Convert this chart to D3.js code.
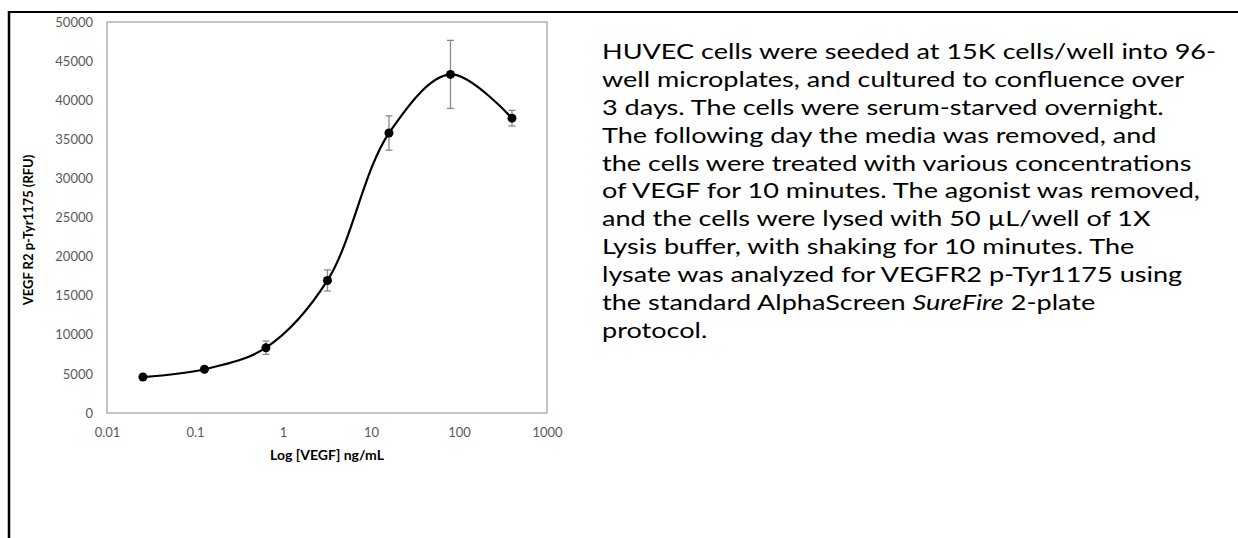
<!DOCTYPE html>
<html lang="en">
<head>
  <meta charset="UTF-8">
  <title>VEGF R2 p-Tyr1175 dose response</title>
  <script src="https://d3js.org/d3.v7.min.js"></script>
  <style>
    body {
      margin: 0;
      background: #fff;
      font-family: Lato, "Liberation Sans", sans-serif;
    }
    .tick-label {
      font-size: 13px;
      fill: #595959;
    }
    .axis-title {
      font-weight: bold;
      fill: #000;
    }
    .note {
      font-size: 20.5px;
      fill: #000;
    }
  </style>
</head>
<body>
  <div id="chart"></div>

  <script>
    // Data (5-fold dilution series)
    const concentrations = [0.0256, 0.128, 0.64, 3.2, 16, 80, 400];
    const signal = [4600, 5600, 8350, 16950, 35800, 43300, 37700];
    const errors = [200, 300, 850, 1350, 2200, 4350, 1000];

    const yTicks = [0, 5000, 10000, 15000, 20000, 25000, 30000, 35000, 40000, 45000, 50000];
    const xTicks = [0.01, 0.1, 1, 10, 100, 1000];

    const noteLines = [
      "HUVEC cells were seeded at 15K cells/well into 96-",
      "well microplates, and cultured to confluence over",
      "3 days. The cells were serum-starved overnight.",
      "The following day the media was removed, and",
      "the cells were treated with various concentrations",
      "of VEGF for 10 minutes. The agonist was removed,",
      "and the cells were lysed with 50 \u00b5L/well of 1X",
      "Lysis buffer, with shaking for 10 minutes. The",
      "lysate was analyzed for VEGFR2 p-Tyr1175 using",
      "the standard AlphaScreen |SureFire| 2-plate",
      "protocol."
    ];

    const W = 1238, H = 538;
    const plot = { left: 107, right: 547, top: 22, bottom: 413 };

    const svg = d3.select("#chart")
      .append("svg")
      .attr("width", W)
      .attr("height", H);

    // Outer frame (top + left rules)
    svg.append("line")
      .attr("x1", 9).attr("x2", W).attr("y1", 12).attr("y2", 12)
      .attr("stroke", "#000").attr("stroke-width", 2);
    svg.append("line")
      .attr("x1", 9).attr("x2", 9).attr("y1", 11).attr("y2", H)
      .attr("stroke", "#000").attr("stroke-width", 2.5);

    // Scales
    const x = d3.scaleLog()
      .domain([0.01, 1000])
      .range([plot.left, plot.right]);

    const y = d3.scaleLinear()
      .domain([0, 50000])
      .range([plot.bottom, plot.top]);

    // Plot area box
    svg.append("rect")
      .attr("x", plot.left)
      .attr("y", plot.top)
      .attr("width", plot.right - plot.left)
      .attr("height", plot.bottom - plot.top)
      .attr("fill", "none")
      .attr("stroke", "#8c8c8c")
      .attr("stroke-width", 1);

    // Axes (labels only, no tick marks)
    const yAxis = d3.axisLeft(y).tickValues(yTicks).tickSize(0).tickPadding(14)
      .tickFormat(d3.format("d"));
    const gy = svg.append("g")
      .attr("transform", `translate(${plot.left},0)`)
      .call(yAxis);
    gy.select(".domain").remove();
    gy.selectAll("text")
      .attr("class", "tick-label")
      .attr("fill", null)
      .style("font-family", "Lato, sans-serif");

    const xAxis = d3.axisBottom(x).tickValues(xTicks).tickSize(0).tickPadding(15)
      .tickFormat(d => String(d));
    const gx = svg.append("g")
      .attr("transform", `translate(0,${plot.bottom})`)
      .call(xAxis);
    gx.select(".domain").remove();
    gx.selectAll("text")
      .attr("class", "tick-label")
      .attr("fill", null)
      .style("font-family", "Lato, sans-serif");

    // Axis titles
    svg.append("text")
      .attr("class", "axis-title")
      .attr("x", (plot.left + plot.right) / 2)
      .attr("y", 460)
      .attr("text-anchor", "middle")
      .style("font-size", "14px")
      .text("Log [VEGF] ng/mL");

    svg.append("text")
      .attr("class", "axis-title")
      .attr("transform", "translate(33,230) rotate(-90)")
      .attr("text-anchor", "middle")
      .style("font-size", "13px")
      .text("VEGF R2 p-Tyr1175 (RFU)");

    const data = concentrations.map((c, i) => ({ c, v: signal[i], e: errors[i] }));

    // Error bars
    const eb = svg.append("g").attr("stroke", "#8a8a8a").attr("stroke-width", 1.3);
    data.forEach(d => {
      const cx = x(d.c);
      eb.append("line")
        .attr("x1", cx).attr("x2", cx)
        .attr("y1", y(d.v + d.e)).attr("y2", y(d.v - d.e));
      [d.v + d.e, d.v - d.e].forEach(val => {
        eb.append("line")
          .attr("x1", cx - 3.5).attr("x2", cx + 3.5)
          .attr("y1", y(val)).attr("y2", y(val));
      });
    });

    // Smoothed line
    const line = d3.line()
      .x(d => x(d.c))
      .y(d => y(d.v))
      .curve(d3.curveCatmullRom.alpha(0.5));

    svg.append("path")
      .datum(data)
      .attr("d", line)
      .attr("fill", "none")
      .attr("stroke", "#000")
      .attr("stroke-width", 2.2);

    // Markers
    svg.selectAll(".dot")
      .data(data)
      .enter()
      .append("circle")
      .attr("class", "dot")
      .attr("cx", d => x(d.c))
      .attr("cy", d => y(d.v))
      .attr("r", 4.5)
      .attr("fill", "#000");

    // Description text block (source text is stretched horizontally)
    const note = svg.append("g")
      .attr("transform", "translate(602,0) scale(1.32,1)");
    noteLines.forEach((ln, i) => {
      const t = note.append("text")
        .attr("class", "note")
        .attr("x", 0)
        .attr("y", 59 + i * 27.9);
      ln.split("|").forEach((part, j) => {
        t.append("tspan")
          .style("font-style", j % 2 === 1 ? "italic" : "normal")
          .text(part);
      });
    });
  </script>
</body>
</html>
